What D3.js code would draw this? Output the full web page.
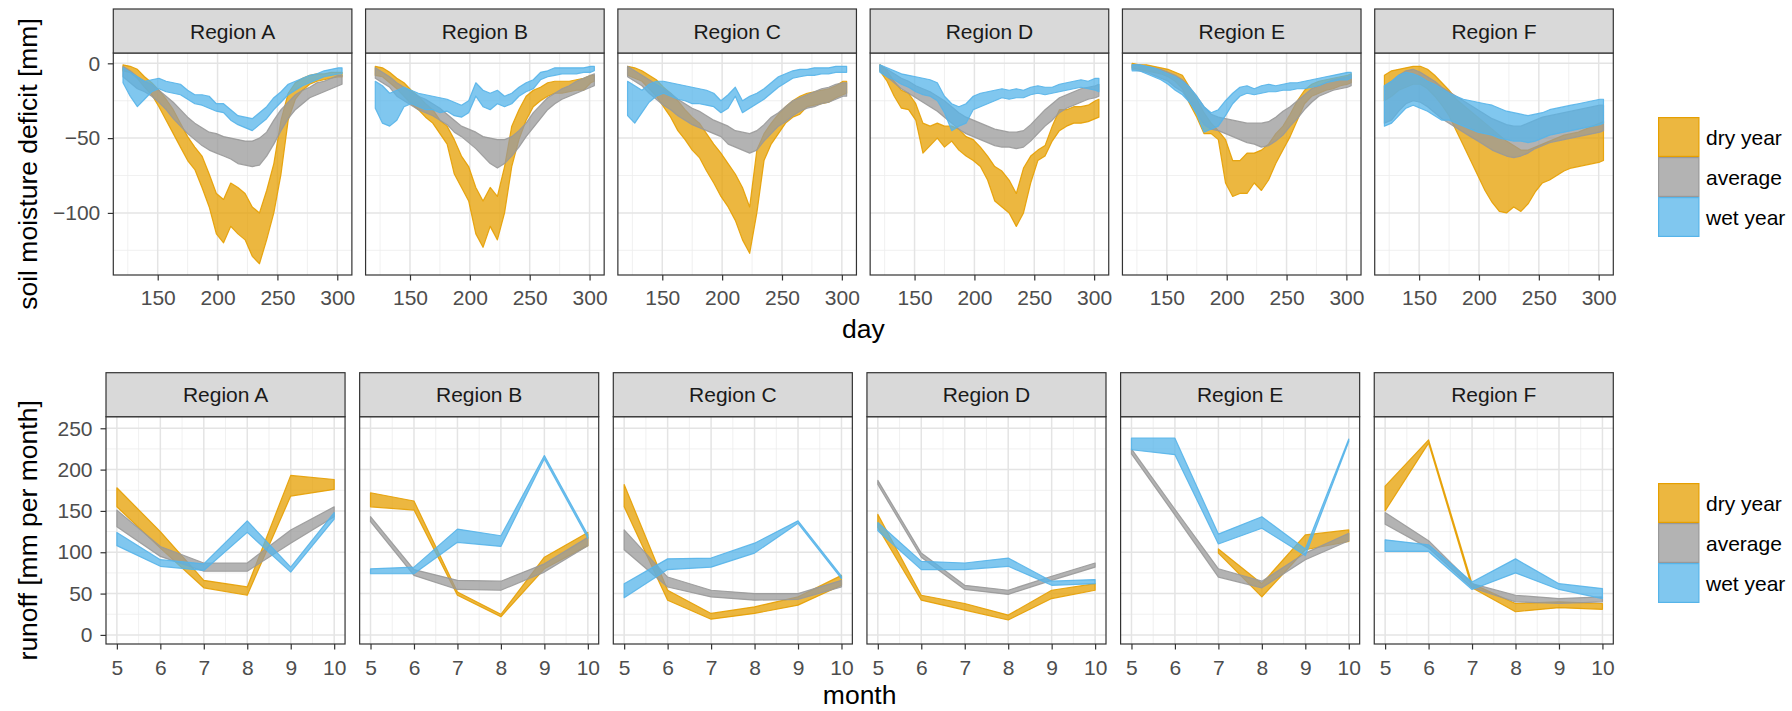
<!DOCTYPE html>
<html>
<head>
<meta charset="utf-8">
<script src="https://cdn.jsdelivr.net/npm/d3@7"></script>
<style>
  body { margin: 0; background: #fff; }
  svg { display: block; font-family: "Liberation Sans", Arial, sans-serif; }
</style>
</head>
<body>
<svg id="chart" width="1792" height="711"></svg>
<script>
const regions = ["Region A", "Region B", "Region C", "Region D", "Region E", "Region F"];
const seriesNames = ["dry year", "average", "wet year"];
const seriesColors = ["#E69F00", "#999999", "#56B4E9"];

// top row: soil moisture deficit [mm] by day, ribbons (lo / hi), one row per region A..F
const days = [121,127,133,139,145,151,157,163,169,175,181,187,193,199,205,211,217,223,229,235,241,247,253,259,265,271,277,283,289,295,301,304];
const dayTicks = [150, 200, 250, 300];
const dayMinor = [125, 175, 225, 275];
const smdTicks = [0, -50, -100];
const smdMinor = [-25, -75, -125];

const smdDryLo = [
  [-5,-6,-10,-16,-21,-29,-38,-47,-56,-65,-71,-83,-96,-114,-120,-109,-114,-118,-129,-134,-118,-100,-74,-38,-24,-18,-14,-12,-11,-10,-9,-9],
  [-8,-9,-13,-17,-22,-27,-31,-36,-40,-47,-54,-74,-83,-92,-114,-123,-109,-118,-100,-69,-51,-38,-29,-25,-22,-20,-20,-19,-18,-18,-13,-12],
  [-8,-10,-12,-17,-22,-29,-36,-45,-51,-58,-63,-72,-80,-89,-96,-105,-118,-127,-100,-65,-54,-47,-40,-36,-34,-29,-28,-27,-26,-23,-21,-20],
  [-5,-12,-22,-30,-31,-38,-60,-55,-50,-56,-52,-58,-62,-65,-69,-78,-92,-96,-100,-109,-100,-80,-65,-62,-52,-45,-42,-40,-40,-39,-37,-36],
  [-3,-4,-5,-6,-7,-9,-12,-17,-27,-36,-47,-47,-51,-80,-89,-87,-87,-80,-85,-78,-67,-58,-49,-38,-27,-22,-20,-18,-17,-15,-14,-13],
  [-25,-22,-18,-16,-14,-14,-17,-22,-28,-35,-45,-55,-65,-75,-85,-93,-99,-100,-96,-99,-94,-86,-80,-78,-75,-72,-70,-69,-68,-67,-66,-65]
];
const smdDryHi = [
  [-1,-2,-4,-9,-13,-18,-24,-31,-40,-49,-56,-62,-74,-87,-91,-80,-83,-87,-96,-100,-85,-67,-38,-20,-13,-10,-8,-7,-7,-6,-6,-6],
  [-2,-3,-6,-10,-13,-18,-22,-27,-31,-38,-42,-51,-62,-69,-83,-92,-83,-89,-69,-42,-31,-22,-18,-16,-13,-12,-12,-12,-11,-10,-8,-8],
  [-2,-3,-5,-8,-11,-16,-20,-25,-31,-36,-40,-47,-54,-60,-67,-74,-83,-96,-58,-47,-40,-34,-29,-25,-22,-20,-19,-18,-17,-15,-12,-12],
  [-1,-5,-12,-18,-20,-27,-40,-42,-40,-42,-42,-44,-49,-51,-56,-62,-69,-72,-78,-87,-70,-62,-58,-55,-42,-31,-31,-29,-29,-28,-25,-24],
  [0,-1,-1,-2,-3,-4,-6,-8,-16,-24,-33,-40,-45,-51,-65,-65,-60,-60,-58,-54,-47,-42,-34,-25,-18,-14,-12,-11,-10,-9,-8,-7],
  [-8,-5,-4,-3,-2,-2,-4,-8,-13,-18,-24,-28,-32,-36,-40,-44,-48,-52,-55,-58,-58,-56,-54,-52,-50,-48,-47,-46,-44,-42,-40,-39]
];
const smdAvgLo = [
  [-9,-13,-17,-19,-22,-26,-31,-37,-42,-47,-51,-55,-58,-60,-62,-64,-67,-68,-69,-68,-62,-54,-45,-37,-31,-27,-23,-21,-19,-17,-15,-14],
  [-10,-13,-16,-22,-25,-28,-31,-33,-35,-38,-41,-46,-49,-53,-57,-62,-67,-70,-67,-62,-56,-49,-43,-37,-31,-27,-24,-22,-20,-18,-16,-15],
  [-9,-12,-15,-20,-24,-28,-31,-35,-38,-41,-43,-45,-47,-49,-54,-56,-58,-60,-58,-52,-47,-42,-39,-35,-32,-30,-29,-27,-26,-24,-22,-22],
  [-5,-9,-13,-17,-20,-23,-26,-29,-32,-36,-40,-44,-47,-49,-51,-53,-55,-56,-56,-57,-56,-52,-47,-42,-38,-33,-30,-28,-26,-24,-23,-22],
  [-4,-5,-6,-8,-10,-12,-16,-19,-26,-33,-41,-44,-45,-47,-49,-51,-53,-54,-56,-55,-52,-48,-42,-37,-31,-26,-22,-20,-18,-17,-16,-15],
  [-40,-38,-32,-27,-25,-26,-29,-33,-37,-40,-43,-46,-49,-52,-55,-58,-60,-62,-63,-62,-60,-57,-55,-53,-52,-51,-50,-49,-48,-47,-46,-45]
];
const smdAvgHi = [
  [-2,-5,-9,-12,-14,-18,-22,-26,-31,-36,-40,-43,-46,-47,-49,-50,-51,-52,-52,-50,-46,-38,-31,-26,-21,-18,-16,-13,-12,-10,-8,-8],
  [-3,-6,-9,-13,-16,-19,-22,-24,-27,-30,-34,-38,-42,-44,-46,-49,-50,-51,-51,-49,-45,-40,-33,-28,-23,-20,-17,-15,-12,-10,-8,-7],
  [-2,-5,-8,-11,-14,-17,-20,-24,-27,-30,-32,-35,-38,-40,-42,-45,-46,-47,-45,-41,-36,-33,-29,-25,-23,-21,-19,-17,-16,-14,-13,-13],
  [-1,-4,-7,-10,-12,-15,-17,-19,-22,-25,-29,-33,-36,-38,-40,-42,-44,-45,-46,-46,-45,-41,-36,-31,-27,-23,-21,-19,-17,-16,-15,-14],
  [-1,-1,-2,-3,-4,-6,-8,-11,-16,-22,-29,-34,-36,-37,-38,-39,-40,-40,-40,-39,-36,-32,-29,-25,-21,-17,-15,-13,-11,-10,-9,-8],
  [-15,-12,-8,-5,-4,-6,-9,-12,-16,-19,-22,-25,-28,-31,-34,-37,-39,-41,-42,-42,-40,-38,-36,-35,-34,-33,-32,-31,-30,-29,-28,-28]
];
const smdWetLo = [
  [-13,-22,-29,-24,-19,-17,-19,-20,-21,-24,-27,-28,-30,-32,-33,-38,-41,-43,-45,-41,-37,-31,-26,-21,-18,-15,-13,-11,-9,-8,-7,-7],
  [-30,-40,-42,-38,-29,-27,-29,-31,-31,-33,-32,-35,-36,-33,-22,-29,-31,-27,-29,-27,-22,-19,-17,-11,-9,-8,-7,-7,-7,-6,-6,-5],
  [-35,-40,-33,-26,-22,-20,-22,-24,-25,-27,-27,-28,-29,-33,-30,-22,-33,-30,-27,-24,-20,-16,-13,-10,-9,-8,-8,-7,-7,-6,-6,-6],
  [-6,-9,-11,-14,-16,-19,-21,-22,-25,-33,-45,-42,-40,-31,-29,-27,-25,-23,-24,-23,-23,-21,-20,-21,-20,-19,-18,-17,-16,-17,-18,-19],
  [-5,-5,-7,-9,-11,-14,-18,-21,-26,-34,-46,-44,-42,-35,-27,-22,-20,-21,-20,-19,-19,-18,-18,-17,-17,-16,-15,-13,-12,-11,-11,-10],
  [-42,-40,-35,-30,-28,-30,-32,-35,-38,-38,-40,-42,-44,-46,-47,-48,-50,-51,-52,-52,-53,-52,-50,-48,-47,-46,-45,-44,-43,-42,-41,-40]
];
const smdWetHi = [
  [-3,-6,-9,-12,-11,-10,-12,-13,-14,-18,-21,-21,-22,-27,-27,-31,-35,-36,-37,-33,-29,-23,-19,-14,-12,-10,-8,-7,-5,-4,-3,-3],
  [-12,-15,-20,-18,-16,-18,-20,-21,-22,-23,-24,-26,-28,-25,-13,-18,-20,-18,-22,-20,-16,-13,-11,-6,-5,-3,-3,-3,-3,-3,-2,-2],
  [-12,-15,-18,-14,-12,-12,-13,-14,-15,-16,-17,-18,-20,-25,-21,-16,-25,-22,-20,-17,-13,-9,-7,-5,-4,-4,-3,-3,-3,-2,-2,-2],
  [-1,-3,-5,-7,-8,-9,-10,-11,-13,-22,-27,-29,-27,-22,-20,-19,-18,-17,-18,-17,-18,-16,-15,-16,-16,-14,-13,-12,-11,-12,-10,-10],
  [-1,-1,-2,-3,-5,-7,-9,-12,-16,-22,-29,-33,-31,-25,-20,-16,-15,-17,-15,-14,-15,-14,-13,-13,-12,-11,-10,-9,-8,-7,-6,-6],
  [-15,-12,-8,-6,-7,-9,-12,-14,-17,-20,-22,-24,-25,-26,-27,-28,-30,-32,-33,-34,-35,-34,-33,-31,-30,-29,-28,-27,-26,-25,-24,-24]
];

// bottom row: runoff [mm per month] by month
const months = [5, 6, 7, 8, 9, 10];
const monthMinor = [5.5, 6.5, 7.5, 8.5, 9.5];
const runoffTicks = [0, 50, 100, 150, 200, 250];
const runoffMinor = [25, 75, 125, 175, 225];

const roDryLo = [
  [155,105,57,48,168,176],
  [155,151,48,22,80,108],
  [155,42,19,26,36,60],
  [130,42,30,18,44,54],
  [null,null,99,46,103,113],
  [150,232,57,28,33,31]
];
const roDryHi = [
  [178,125,66,58,193,188],
  [172,162,52,25,94,124],
  [182,54,26,34,46,72],
  [146,48,38,24,54,62],
  [null,null,104,62,121,127],
  [180,236,62,38,40,38]
];
const roAvgLo = [
  [131,95,77,77,111,143],
  [137,72,55,54,76,108],
  [103,58,46,42,43,58],
  [182,94,55,49,66,82],
  [219,145,70,57,91,114],
  [134,105,57,40,38,40]
];
const roAvgHi = [
  [151,107,87,87,127,155],
  [143,79,66,65,86,118],
  [127,70,54,50,50,66],
  [187,99,60,54,71,87],
  [225,152,80,65,99,123],
  [148,114,62,48,44,46]
];
const roWetLo = [
  [108,83,78,124,76,140],
  [74,74,112,107,213,117],
  [45,79,82,99,135,68],
  [126,79,79,83,60,62],
  [224,218,110,129,96,234],
  [101,101,55,75,55,44]
];
const roWetHi = [
  [124,91,86,138,82,148],
  [80,82,128,120,217,121],
  [62,92,93,111,138,71],
  [136,89,87,93,65,67],
  [238,238,122,143,104,237],
  [115,109,64,92,62,56]
];

const svg = d3.select("#chart");

const rows = [
  {
    left: 113.3, right: 1613.3, gap: 13.7, stripTop: 9, top: 53, bottom: 275,
    xs: days, xDomain: [112.9, 312.2], xTicks: dayTicks, xMinor: dayMinor,
    yDomain: [-141.5, 6.9], yTicks: smdTicks, yMinor: smdMinor,
    lo: [smdDryLo, smdAvgLo, smdWetLo], hi: [smdDryHi, smdAvgHi, smdWetHi],
    xPad: 9.5, yPad: 7.5,
    yTitle: "soil moisture deficit [mm]", xTitle: "day", xTitleY: 338, legendTop: 117
  },
  {
    left: 106, right: 1613.3, gap: 14.6, stripTop: 372.7, top: 416.7, bottom: 644,
    xs: months, xDomain: [4.75, 10.25], xTicks: months, xMinor: monthMinor,
    yDomain: [-11, 264], yTicks: runoffTicks, yMinor: runoffMinor,
    lo: [roDryLo, roAvgLo, roWetLo], hi: [roDryHi, roAvgHi, roWetHi],
    xPad: 10.5, yPad: 8,
    yTitle: "runoff [mm per month]", xTitle: "month", xTitleY: 704, legendTop: 483
  }
];

function drawRow(row) {
  const pw = (row.right - row.left - row.gap * 5) / 6;
  const y = d3.scaleLinear().domain(row.yDomain).range([row.bottom, row.top]);

  regions.forEach((name, i) => {
    const x0 = row.left + i * (pw + row.gap);
    const x = d3.scaleLinear().domain(row.xDomain).range([x0, x0 + pw]);
    const g = svg.append("g");

    g.append("rect")
      .attr("x", x0).attr("y", row.top)
      .attr("width", pw).attr("height", row.bottom - row.top)
      .attr("fill", "#fff");

    // grid lines
    g.selectAll(".gxm").data(row.xMinor).join("line")
      .attr("x1", d => x(d)).attr("x2", d => x(d))
      .attr("y1", row.top).attr("y2", row.bottom)
      .attr("stroke", "#ececec").attr("stroke-width", 0.8);
    g.selectAll(".gym").data(row.yMinor).join("line")
      .attr("x1", x0).attr("x2", x0 + pw)
      .attr("y1", d => y(d)).attr("y2", d => y(d))
      .attr("stroke", "#ececec").attr("stroke-width", 0.8);
    g.selectAll(".gx").data(row.xTicks).join("line")
      .attr("x1", d => x(d)).attr("x2", d => x(d))
      .attr("y1", row.top).attr("y2", row.bottom)
      .attr("stroke", "#e4e4e4").attr("stroke-width", 1.5);
    g.selectAll(".gy").data(row.yTicks).join("line")
      .attr("x1", x0).attr("x2", x0 + pw)
      .attr("y1", d => y(d)).attr("y2", d => y(d))
      .attr("stroke", "#e4e4e4").attr("stroke-width", 1.5);

    // ribbons: dry, average, wet (wet on top)
    seriesNames.forEach((s, k) => {
      const lo = row.lo[k][i], hi = row.hi[k][i];
      const pts = row.xs.map((xv, j) => ({ x: xv, lo: lo[j], hi: hi[j] }));
      const area = d3.area()
        .defined(d => d.lo != null && d.hi != null)
        .x(d => x(d.x))
        .y0(d => y(d.lo))
        .y1(d => y(d.hi));
      g.append("path")
        .attr("d", area(pts))
        .attr("fill", seriesColors[k])
        .attr("fill-opacity", 0.75)
        .attr("stroke", seriesColors[k])
        .attr("stroke-opacity", 0.9)
        .attr("stroke-width", 1.2)
        .attr("stroke-linejoin", "round");
    });

    // panel border
    g.append("rect")
      .attr("x", x0).attr("y", row.top)
      .attr("width", pw).attr("height", row.bottom - row.top)
      .attr("fill", "none").attr("stroke", "#333").attr("stroke-width", 1.2);

    // strip
    g.append("rect")
      .attr("x", x0).attr("y", row.stripTop)
      .attr("width", pw).attr("height", row.top - row.stripTop)
      .attr("fill", "#d9d9d9").attr("stroke", "#333").attr("stroke-width", 1.2);
    g.append("text")
      .attr("x", x0 + pw / 2).attr("y", (row.stripTop + row.top) / 2)
      .attr("dy", "0.36em")
      .attr("text-anchor", "middle")
      .attr("font-size", 21).attr("fill", "#1a1a1a")
      .text(name);

    // x axis
    const ax = g.append("g")
      .attr("transform", `translate(0,${row.bottom})`)
      .call(d3.axisBottom(x).tickValues(row.xTicks).tickFormat(d3.format("d"))
        .tickSize(5.5).tickPadding(row.xPad));
    ax.select(".domain").remove();
    ax.selectAll("line").attr("stroke", "#333").attr("stroke-width", 1.2);
    ax.selectAll("text").attr("font-size", 21).attr("fill", "#4d4d4d")
      .attr("font-family", "Liberation Sans, Arial, sans-serif");

    // y axis only on first panel
    if (i === 0) {
      const ay = g.append("g")
        .attr("transform", `translate(${x0},0)`)
        .call(d3.axisLeft(y).tickValues(row.yTicks).tickFormat(d3.format("d"))
          .tickSize(5.5).tickPadding(row.yPad));
      ay.select(".domain").remove();
      ay.selectAll("line").attr("stroke", "#333").attr("stroke-width", 1.2);
      ay.selectAll("text").attr("font-size", 21).attr("fill", "#4d4d4d")
        .attr("font-family", "Liberation Sans, Arial, sans-serif");
    }
  });

  // axis titles
  svg.append("text")
    .attr("transform", `translate(37,${(row.top + row.bottom) / 2}) rotate(-90)`)
    .attr("text-anchor", "middle")
    .attr("font-size", 26.5).attr("fill", "#000")
    .text(row.yTitle);
  svg.append("text")
    .attr("x", (row.left + row.right) / 2).attr("y", row.xTitleY)
    .attr("text-anchor", "middle")
    .attr("font-size", 26.5).attr("fill", "#000")
    .text(row.xTitle);

  // legend
  const lg = svg.append("g").attr("transform", `translate(1658,${row.legendTop})`);
  seriesNames.forEach((s, k) => {
    lg.append("rect")
      .attr("x", 0.6).attr("y", k * 40 + 0.6)
      .attr("width", 40.3).attr("height", 38.8)
      .attr("fill", seriesColors[k]).attr("fill-opacity", 0.75)
      .attr("stroke", seriesColors[k]).attr("stroke-width", 1.2);
    lg.append("text")
      .attr("x", 48).attr("y", k * 40 + 20)
      .attr("dy", "0.36em")
      .attr("font-size", 21).attr("fill", "#000")
      .text(s);
  });
}

rows.forEach(drawRow);
</script>
</body>
</html>
